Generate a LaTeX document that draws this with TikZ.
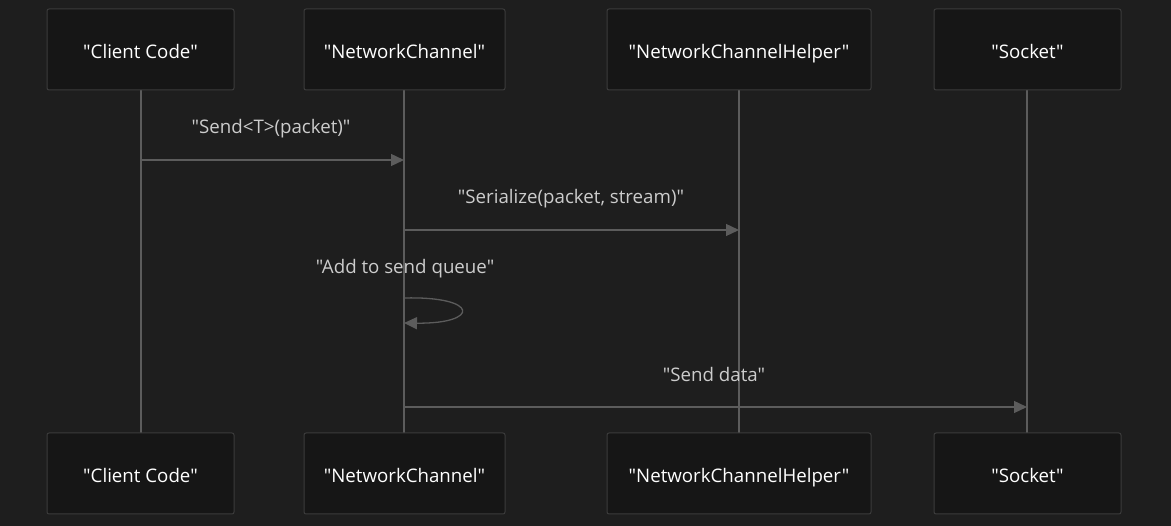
\documentclass[tikz,border=0pt]{standalone}
\usepackage{fontspec}
\setmainfont{Open Sans}[Ligatures=TeXOff]
\usetikzlibrary{arrows.meta}
\definecolor{bgcol}{HTML}{1E1E1E}
\definecolor{boxfill}{HTML}{161616}
\definecolor{boxline}{HTML}{3C3C3C}
\definecolor{linecol}{HTML}{5C5C5C}
\definecolor{msgtext}{HTML}{CCCCCC}

\begin{document}
\begin{tikzpicture}[x=1pt,y=-1pt,
	actor/.style={draw=boxline,fill=boxfill,line width=1pt,rounded corners=2pt,
		minimum height=81pt,text height=19pt,text depth=0pt,text=white,
		font=\fontsize{18.7}{22}\selectfont},
	life/.style={draw=linecol,line width=1.3pt},
	msg/.style={draw=linecol,line width=1.3pt,-{Triangle[length=13pt,width=12pt]}},
	lbl/.style={text=msgtext,text height=13pt,text depth=0pt,
		font=\fontsize{18.7}{22}\selectfont}]
	\fill[bgcol] (0,0) rectangle (1171,526);
	\useasboundingbox (0,0) rectangle (1171,526);
	% lifelines
	\coordinate (cct) at (141,90);  \coordinate (ccb) at (141,433);
	\coordinate (nct) at (404,90);  \coordinate (ncb) at (404,433);
	\coordinate (nht) at (739,90);  \coordinate (nhb) at (739,433);
	\coordinate (skt) at (1027,90); \coordinate (skb) at (1027,433);
	\draw[life] (cct) -- (ccb);
	\draw[life] (nct) -- (ncb);
	\draw[life] (nht) -- (nhb);
	\draw[life] (skt) -- (skb);
	% actors
	\node[actor,minimum width=187pt] (cc) at (140.5,49.5) {"Client Code"};
	\node[actor,minimum width=201pt] (nc) at (404.5,49.5) {"NetworkChannel"};
	\node[actor,minimum width=264pt] (nh) at (739,49.5) {"NetworkChannelHelper"};
	\node[actor,minimum width=187pt] (sk) at (1027.5,49.5) {"Socket"};
	\node[actor,minimum width=187pt] (cc2) at (140.5,473.5) {"Client Code"};
	\node[actor,minimum width=201pt] (nc2) at (404.5,473.5) {"NetworkChannel"};
	\node[actor,minimum width=264pt] (nh2) at (739,473.5) {"NetworkChannelHelper"};
	\node[actor,minimum width=187pt] (sk2) at (1027.5,473.5) {"Socket"};
	% messages
	\coordinate (m1a) at (141,160); \coordinate (m1b) at (404,160);
	\draw[msg] (m1a) -- (m1b);
	\node[lbl] (l1) at (271,127.5) {"Send<T>(packet)"};
	\coordinate (m2a) at (404,230); \coordinate (m2b) at (739,230);
	\draw[msg] (m2a) -- (m2b);
	\node[lbl] (l2) at (571,197) {"Serialize(packet, stream)"};
	\coordinate (m3a) at (404,298); \coordinate (m3b) at (404,323);
	\draw[msg] (m3a) .. controls (480,296) and (480,324) .. (m3b);
	\node[lbl] (l3) at (405,267) {"Add to send queue"};
	\coordinate (m4a) at (404,407); \coordinate (m4b) at (1027,407);
	\draw[msg] (m4a) -- (m4b);
	\node[lbl] (l4) at (714,375) {"Send data"};
\end{tikzpicture}
\end{document}
